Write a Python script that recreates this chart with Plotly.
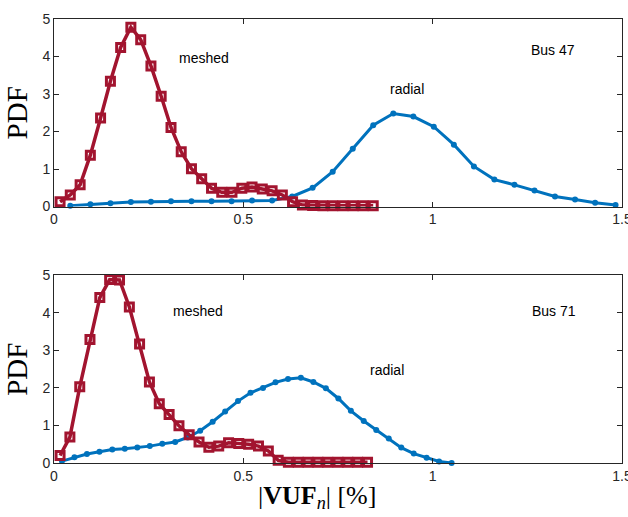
import plotly.graph_objects as go
from plotly.subplots import make_subplots

# ---- data ----
top_meshed_x = [0.016, 0.043, 0.069, 0.096, 0.123, 0.149, 0.176, 0.203, 0.229, 0.256, 0.283, 0.309,
                0.336, 0.363, 0.390, 0.416, 0.443, 0.470, 0.496, 0.523, 0.550, 0.576, 0.603, 0.630,
                0.656, 0.683, 0.710, 0.736, 0.763, 0.790, 0.816, 0.843]
top_meshed_y = [0.13, 0.31, 0.58, 1.37, 2.36, 3.34, 4.24, 4.78, 4.45, 3.75, 2.94, 2.11,
                1.46, 1.01, 0.74, 0.49, 0.38, 0.38, 0.49, 0.52, 0.47, 0.42, 0.31, 0.13,
                0.04, 0.03, 0.02, 0.02, 0.02, 0.02, 0.02, 0.02]
top_radial_x = [0.043, 0.096, 0.149, 0.203, 0.256, 0.309, 0.363, 0.416, 0.469, 0.523, 0.576, 0.629,
                0.683, 0.736, 0.789, 0.843, 0.896, 0.949, 1.003, 1.056, 1.109, 1.163, 1.216, 1.269,
                1.323, 1.376, 1.429, 1.483]
top_radial_y = [0.02, 0.06, 0.09, 0.12, 0.13, 0.14, 0.14, 0.14, 0.14, 0.16, 0.16, 0.27,
                0.50, 0.93, 1.54, 2.17, 2.48, 2.40, 2.13, 1.65, 1.07, 0.72, 0.58, 0.43,
                0.27, 0.19, 0.10, 0.04]

bot_meshed_x = [0.016, 0.042, 0.068, 0.095, 0.121, 0.147, 0.173, 0.199, 0.226, 0.252, 0.278, 0.304,
                0.330, 0.357, 0.383, 0.409, 0.435, 0.461, 0.488, 0.514, 0.540, 0.566, 0.592, 0.619,
                0.645, 0.671, 0.697, 0.723, 0.750, 0.776, 0.802, 0.828]
bot_meshed_y = [0.20, 0.69, 2.03, 3.29, 4.41, 4.89, 4.88, 4.16, 3.17, 2.16, 1.58, 1.29,
                0.99, 0.75, 0.56, 0.42, 0.45, 0.54, 0.52, 0.50, 0.45, 0.32, 0.07, 0.02,
                0.02, 0.02, 0.02, 0.02, 0.02, 0.02, 0.02, 0.02]
bot_radial_x = [0.021, 0.054, 0.087, 0.120, 0.154, 0.187, 0.220, 0.253, 0.286, 0.320, 0.353, 0.386,
                0.419, 0.452, 0.486, 0.519, 0.552, 0.585, 0.618, 0.652, 0.685, 0.718, 0.751, 0.784,
                0.818, 0.851, 0.884, 0.917, 0.950, 0.984, 1.017, 1.050]
bot_radial_y = [0.05, 0.15, 0.24, 0.30, 0.36, 0.38, 0.41, 0.45, 0.51, 0.56, 0.68, 0.86,
                1.10, 1.37, 1.65, 1.87, 2.00, 2.15, 2.24, 2.27, 2.16, 1.99, 1.72, 1.39,
                1.12, 0.88, 0.65, 0.41, 0.25, 0.14, 0.04, 0.00]

x_ticks = [0, 0.5, 1, 1.5]
x_tick_labels = ["0", "0.5", "1", "1.5"]
y_ticks = [0, 1, 2, 3, 4, 5]

RED = "#A2142F"
BLUE = "#0072BD"

fig = make_subplots(rows=2, cols=1, vertical_spacing=0.155)

def add_panel(row, mx, my, rx, ry):
    fig.add_trace(go.Scatter(x=rx, y=ry, mode="lines+markers",
                             line=dict(color=BLUE, width=3),
                             marker=dict(symbol="circle", size=6, color=BLUE),
                             cliponaxis=False, showlegend=False), row=row, col=1)
    fig.add_trace(go.Scatter(x=mx, y=my, mode="lines+markers",
                             line=dict(color=RED, width=3.5),
                             marker=dict(symbol="square-open", size=8, color=RED,
                                         line=dict(width=3, color=RED)),
                             cliponaxis=False, showlegend=False), row=row, col=1)

add_panel(1, top_meshed_x, top_meshed_y, top_radial_x, top_radial_y)
add_panel(2, bot_meshed_x, bot_meshed_y, bot_radial_x, bot_radial_y)

axis_font = dict(family="Liberation Sans, Arial, sans-serif", size=14, color="#262626")
for r in (1, 2):
    fig.update_xaxes(range=[0, 1.5], tickvals=x_ticks, ticktext=x_tick_labels,
                     ticks="inside", ticklen=5, tickcolor="#262626", automargin=False,
                     ticklabeloverflow="allow",
                     showline=True, linecolor="#262626", linewidth=1, mirror="ticks",
                     showgrid=False, zeroline=False, tickfont=axis_font, row=r, col=1)
    fig.update_yaxes(range=[0, 5], tickvals=y_ticks, automargin=False,
                     ticklabeloverflow="allow",
                     ticks="inside", ticklen=5, tickcolor="#262626",
                     showline=True, linecolor="#262626", linewidth=1, mirror="ticks",
                     showgrid=False, zeroline=False, tickfont=axis_font,
                     title=dict(text="PDF", font=dict(family="Liberation Serif, serif", size=29, color="black"),
                                standoff=6),
                     row=r, col=1)

ann_font = dict(family="Liberation Sans, Arial, sans-serif", size=14, color="black")
notes = [
    (1, 0.395, 3.96, "meshed"), (1, 1.317, 4.18, "Bus 47"), (1, 0.933, 3.14, "radial"),
    (2, 0.379, 4.04, "meshed"), (2, 1.32, 4.04, "Bus 71"), (2, 0.88, 2.47, "radial"),
]
for r, x, y, t in notes:
    fig.add_annotation(x=x, y=y, text=t, showarrow=False, font=ann_font,
                       xref="x" if r == 1 else "x2", yref="y" if r == 1 else "y2")

# x-axis label placed as in the reference
fig.add_annotation(x=0.4636, y=-0.0764, xref="paper", yref="paper", xanchor="center", yanchor="middle",
                   text="|<b>VUF</b><sub><i>n</i></sub>| [%]", showarrow=False,
                   font=dict(family="Liberation Serif, serif", size=26, color="black"))

fig.update_layout(width=628, height=517, margin=dict(l=54, r=6, t=19, b=54),
                  plot_bgcolor="white", paper_bgcolor="white")
fig.update_yaxes(domain=[0.5775, 1.0], row=1, col=1)
fig.update_yaxes(domain=[0.0, 0.4225], row=2, col=1)

fig.write_html("out.html")
